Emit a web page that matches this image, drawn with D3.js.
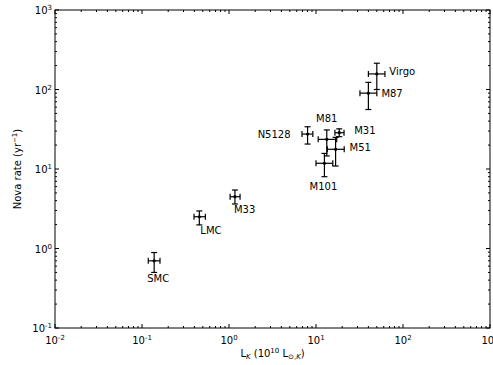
<!DOCTYPE html>
<html>
<head>
<meta charset="utf-8">
<script src="https://cdn.jsdelivr.net/npm/d3@7"></script>
<style>
  body { margin: 0; background: #fff; }
  text { font-family: "DejaVu Sans", sans-serif; fill: #000; }
</style>
</head>
<body>
<div id="chart"></div>
<script>
// galaxies, K-band luminosity (1e10 Lsun,K) and nova rate (per yr)
var names  = ['SMC', 'LMC', 'M33', 'N5128', 'M81', 'M31', 'M51', 'M101', 'M87', 'Virgo'];
var lk     = [0.138, 0.456, 1.17, 8.0, 13.3, 18.5, 16.8, 12.5, 40, 50];
var lkLo   = [0.118, 0.396, 1.03, 6.9, 10.6, 16.5, 13.5, 10.0, 32, 40];
var lkHi   = [0.161, 0.535, 1.34, 9.2, 17.3, 21.0, 21.1, 15.6, 50, 62];
var rate   = [0.70, 2.51, 4.48, 27.5, 23.6, 28.6, 17.7, 11.8, 90, 157];
var rateLo = [0.50, 1.98, 3.63, 20.6, 14.6, 25.5, 10.9, 8.0, 56, 100];
var rateHi = [0.89, 2.97, 5.44, 34.0, 31.0, 32.0, 25.0, 15.7, 123, 214];
// label placement relative to point: [dx, dy, anchor]
var labelPos = [[4, 18, 'middle'], [1, 14, 'start'], [-1, 13, 'start'], [-17, 0, 'end'],
  [0, -21, 'middle'], [15, -2, 'start'], [14, -2, 'start'], [-1, 23, 'middle'],
  [13, 0, 'start'], [12.5, -3, 'start']];

var xDecades = [-2, -1, 0, 1, 2, 3];
var yDecades = [-1, 0, 1, 2, 3];

var W = 493, H = 365;
var mL = 55, mR = 490, mT = 10, mB = 328;

var svg = d3.select('#chart').append('svg').attr('width', W).attr('height', H);

var x = d3.scaleLog().domain([1e-2, 1e3]).range([mL, mR]);
var y = d3.scaleLog().domain([1e-1, 1e3]).range([mB, mT]);

function minors(decs) {
  var out = [];
  for (var i = 0; i < decs.length - 1; i++)
    for (var k = 2; k <= 9; k++) out.push(k * Math.pow(10, decs[i]));
  return out;
}
var xMaj = xDecades.map(function(d){ return Math.pow(10, d); });
var yMaj = yDecades.map(function(d){ return Math.pow(10, d); });

var g = svg.append('g');
// ticks on all four sides, pointing inward
function tickLines(vals, len, cls) {
  g.selectAll('line.' + cls + 'b').data(vals).enter().append('line')
    .attr('x1', d => x(d)).attr('x2', d => x(d)).attr('y1', mB).attr('y2', mB - len)
    .attr('stroke', '#000').attr('stroke-width', 1);
  g.selectAll('line.' + cls + 't').data(vals).enter().append('line')
    .attr('x1', d => x(d)).attr('x2', d => x(d)).attr('y1', mT).attr('y2', mT + len)
    .attr('stroke', '#000').attr('stroke-width', 1);
}
function tickLinesY(vals, len, cls) {
  g.selectAll('line.' + cls + 'l').data(vals).enter().append('line')
    .attr('y1', d => y(d)).attr('y2', d => y(d)).attr('x1', mL).attr('x2', mL + len)
    .attr('stroke', '#000').attr('stroke-width', 1);
  g.selectAll('line.' + cls + 'r').data(vals).enter().append('line')
    .attr('y1', d => y(d)).attr('y2', d => y(d)).attr('x1', mR).attr('x2', mR - len)
    .attr('stroke', '#000').attr('stroke-width', 1);
}
tickLines(xMaj, 4, 'xM'); tickLines(minors(xDecades), 2, 'xm');
tickLinesY(yMaj, 4, 'yM'); tickLinesY(minors(yDecades), 2, 'ym');

svg.append('rect').attr('x', mL).attr('y', mT)
  .attr('width', mR - mL).attr('height', mB - mT)
  .attr('fill', 'none').attr('stroke', '#000').attr('stroke-width', 1);

// tick labels 10^n
xDecades.forEach(function(d) {
  var t = svg.append('text').attr('x', x(Math.pow(10, d))).attr('y', 344)
    .attr('text-anchor', 'middle').style('font-size', '10px');
  t.append('tspan').text('10');
  t.append('tspan').attr('dy', -4).style('font-size', '7px').text(d < 0 ? '-' + (-d) : d);
});
yDecades.forEach(function(d) {
  var t = svg.append('text').attr('x', mL - 3).attr('y', y(Math.pow(10, d)) + 4)
    .attr('text-anchor', 'end').style('font-size', '10px');
  t.append('tspan').text('10');
  t.append('tspan').attr('dy', -4).style('font-size', '7px').text(d < 0 ? '-' + (-d) : d);
});

// axis titles
var xl = svg.append('text').attr('x', (mL + mR) / 2).attr('y', 357)
  .attr('text-anchor', 'middle').style('font-size', '10px');
xl.append('tspan').text('L');
xl.append('tspan').attr('dy', 2).style('font-size', '7px').style('font-style', 'italic').text('K');
xl.append('tspan').attr('dy', -2).text(' (10');
xl.append('tspan').attr('dy', -4).style('font-size', '7px').text('10');
xl.append('tspan').attr('dy', 4).text(' L');
xl.append('tspan').attr('dy', 2).style('font-size', '7px').text('\u2299,');
xl.append('tspan').style('font-size', '7px').style('font-style', 'italic').text('K');
xl.append('tspan').attr('dy', -2).text(')');

var yl = svg.append('text').attr('transform', 'translate(21,' + ((mT + mB) / 2) + ') rotate(-90)')
  .attr('text-anchor', 'middle').style('font-size', '10px');
yl.append('tspan').text('Nova rate (yr');
yl.append('tspan').attr('dy', -4).style('font-size', '7px').text('\u22121');
yl.append('tspan').attr('dy', 4).text(')');

// error bars
var idx = d3.range(names.length);
var pts = svg.append('g').selectAll('g').data(idx).enter().append('g');
var cap = 3;
pts.append('line').attr('x1', i => x(lk[i])).attr('x2', i => x(lk[i]))
  .attr('y1', i => y(rateLo[i])).attr('y2', i => y(rateHi[i]))
  .attr('stroke', '#000').attr('stroke-width', 1.2);
pts.append('line').attr('x1', i => x(lkLo[i])).attr('x2', i => x(lkHi[i]))
  .attr('y1', i => y(rate[i])).attr('y2', i => y(rate[i]))
  .attr('stroke', '#000').attr('stroke-width', 1.2);
[rateLo, rateHi].forEach(function(arr) {
  pts.append('line').attr('x1', i => x(lk[i]) - cap).attr('x2', i => x(lk[i]) + cap)
    .attr('y1', i => y(arr[i])).attr('y2', i => y(arr[i]))
    .attr('stroke', '#000').attr('stroke-width', 1.2);
});
[lkLo, lkHi].forEach(function(arr) {
  pts.append('line').attr('x1', i => x(arr[i])).attr('x2', i => x(arr[i]))
    .attr('y1', i => y(rate[i]) - cap).attr('y2', i => y(rate[i]) + cap)
    .attr('stroke', '#000').attr('stroke-width', 1.2);
});
pts.append('circle').attr('cx', i => x(lk[i])).attr('cy', i => y(rate[i]))
  .attr('r', 1.6).attr('fill', '#000');

pts.append('text')
  .attr('x', i => x(lk[i]) + labelPos[i][0])
  .attr('y', i => y(rate[i]) + labelPos[i][1] + 3.6)
  .attr('text-anchor', i => labelPos[i][2])
  .style('font-size', '10px')
  .text(i => names[i]);
</script>
</body>
</html>
